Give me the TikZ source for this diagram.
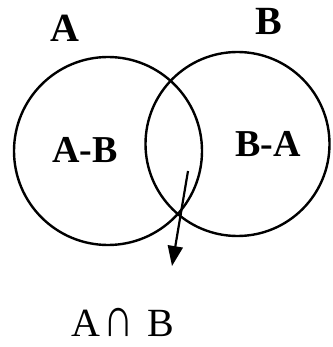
\documentclass[tikz,border=0pt]{standalone}
\usepackage{graphicx}
\usepackage{fontspec}
\setmainfont{Liberation Serif}
\usetikzlibrary{arrows.meta}

\begin{document}
\begin{tikzpicture}[x=1pt, y=-1pt,
    setlabel/.style={inner sep=0pt, anchor=base, font=\fontsize{40}{40}\selectfont\bfseries},
    partlabel/.style={inner sep=0pt, anchor=base, font=\fontsize{38}{38}\selectfont\bfseries}]
  \useasboundingbox (0, 0) rectangle (332, 347);

  % Centres of the two sets
  \coordinate (cA) at (108, 151);
  \coordinate (cB) at (237.5, 144);

  % Set circles
  \draw[line width=2.4pt] (cA) circle (94);
  \draw[line width=2.4pt] (cB) circle (92);

  % Set names
  \node[setlabel] (nameA) at (65, 42) {A};
  \node[setlabel] (nameB) at (269, 35) {B};

  % Differences
  \node[partlabel] (diffAB) at (85, 163) {A-B};
  \node[partlabel] (diffBA) at (268, 157) {B-A};

  % Intersection pointer
  \coordinate (ptrStart) at (188, 171);
  \coordinate (ptrTip) at (172, 266);
  \draw[line width=2.2pt, -{Triangle[length=20pt, width=15pt]}] (ptrStart) -- (ptrTip);
  \node[inner sep=0pt, anchor=base, font=\fontsize{40}{40}\selectfont] (meet) at (123, 336)
    {A\hspace{3pt}\raisebox{0pt}{\scalebox{1.05}[1.4]{∩}}\hspace{14pt}B};
\end{tikzpicture}
\end{document}
